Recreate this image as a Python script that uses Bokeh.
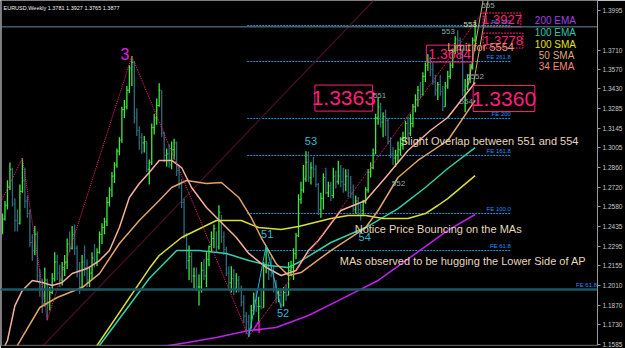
from bokeh.plotting import figure
from bokeh.models import Range1d, LinearAxis, FixedTicker, PrintfTickFormatter, Label, Span
from bokeh.embed import file_html
from bokeh.resources import INLINE

symbol = "EURUSD,Weekly"

# Weekly bars, values are pips above 1.0000 (2930 -> 1.2930)
first_open = 2440
highs = [2530, 2620, 2770, 2898, 2860, 2640, 2560, 2740, 2930, 2860,
         2660, 2560, 2380, 2440, 2400, 2130, 2060, 2140, 2060, 2000,
         2100, 2250, 2230, 2160, 2180, 2230, 2350, 2400, 2440, 2450,
         2300, 2180, 2230, 2300, 2200, 2150, 2250, 2310, 2280, 2400,
         2460, 2500, 2650, 2720, 2830, 2900, 3000, 3080, 3300, 3350,
         3450, 3600, 3666, 3630, 3290, 3160, 3110, 3090, 3050, 2920,
         3180, 3250, 3360, 3470, 3420, 3120, 3000, 3030, 3050, 3070,
         3050, 2880, 2780, 2640, 2390, 2300, 2250, 2140, 2140, 2090,
         2180, 2200, 2250, 2300, 2400, 2450, 2400, 2590, 2520, 2400,
         2290, 2150, 2150, 2130, 2100, 2080, 2010, 1940, 1820, 1800,
         1870, 1960, 1980, 1930, 1980, 2180, 2300, 2180, 2220, 2150,
         2050, 1990, 1990, 2000, 2020, 2180, 2190, 2280, 2390, 2670,
         2760, 2880, 2980, 2978, 2900, 2940, 2880, 2750, 2680, 2820,
         2860, 2760, 2760, 2860, 2840, 2910, 2880, 2860, 2850, 2850,
         2800, 2740, 2660, 2650, 2600, 2630, 2720, 2850, 2900, 3000,
         3250, 3370, 3330, 3260, 3280, 3220, 3080, 3010, 2990, 3050,
         3080, 3120, 3200, 3230, 3250, 3320, 3390, 3450, 3480, 3550,
         3620, 3682, 3660, 3620, 3530, 3480, 3530, 3450, 3480, 3560,
         3620, 3720, 3810, 3852, 3800, 3720, 3500, 3530, 3610, 3800,
         3927]
lows = [2380, 2480, 2560, 2700, 2580, 2400, 2400, 2450, 2680, 2570,
        2500, 2290, 2190, 2230, 2040, 1930, 1810, 1860, 1760, 1830,
        1950, 2040, 2050, 2000, 2010, 2080, 2130, 2250, 2270, 2230,
        2070, 1950, 1990, 2080, 2000, 2000, 2050, 2140, 2150, 2240,
        2310, 2380, 2440, 2580, 2650, 2750, 2860, 2950, 3040, 3220,
        3280, 3400, 3450, 3180, 3090, 2990, 2960, 2970, 2830, 2740,
        2880, 3100, 3170, 3300, 3080, 2900, 2870, 2860, 2850, 2920,
        2800, 2710, 2570, 2350, 2130, 2050, 2030, 1990, 1970, 1866,
        1960, 2050, 2000, 2150, 2250, 2280, 2250, 2270, 2320, 2230,
        2080, 1990, 1960, 1940, 1960, 1960, 1860, 1740, 1660, 1640,
        1700, 1800, 1820, 1750, 1840, 1850, 2100, 2050, 2070, 1960,
        1880, 1890, 1850, 1860, 1900, 1940, 2080, 2050, 2200, 2360,
        2600, 2680, 2760, 2760, 2740, 2790, 2720, 2520, 2500, 2560,
        2670, 2650, 2620, 2640, 2710, 2740, 2720, 2680, 2690, 2650,
        2640, 2540, 2530, 2510, 2480, 2520, 2600, 2680, 2790, 2850,
        2960, 3170, 3150, 3080, 3090, 3030, 2930, 2880, 2866, 2900,
        2950, 2990, 3040, 3060, 3090, 3150, 3260, 3300, 3360, 3380,
        3480, 3560, 3520, 3460, 3380, 3350, 3380, 3270, 3300, 3430,
        3500, 3580, 3680, 3720, 3650, 3380, 3260, 3420, 3470, 3570,
        3765]
closes = [2490, 2590, 2720, 2850, 2600, 2480, 2460, 2690, 2770, 2620,
          2530, 2320, 2260, 2380, 2080, 1990, 1880, 2050, 1870, 1960,
          2060, 2180, 2100, 2050, 2140, 2180, 2310, 2280, 2380, 2280,
          2120, 2000, 2180, 2140, 2050, 2100, 2210, 2170, 2250, 2380,
          2430, 2470, 2610, 2700, 2800, 2880, 2980, 3060, 3280, 3300,
          3420, 3580, 3620, 3220, 3130, 3080, 3040, 3050, 2850, 2900,
          3150, 3220, 3310, 3420, 3110, 2950, 2960, 2880, 2990, 3040,
          2840, 2740, 2610, 2380, 2190, 2220, 2080, 2080, 2000, 2000,
          2120, 2080, 2200, 2290, 2350, 2420, 2290, 2540, 2360, 2270,
          2100, 2030, 2060, 1990, 2050, 1990, 1890, 1790, 1750, 1700,
          1830, 1900, 1860, 1860, 1850, 2150, 2150, 2120, 2110, 2000,
          1920, 1940, 1870, 1960, 1940, 2120, 2140, 2240, 2370, 2630,
          2700, 2780, 2900, 2790, 2860, 2850, 2740, 2560, 2640, 2790,
          2680, 2730, 2660, 2800, 2760, 2800, 2760, 2740, 2800, 2680,
          2670, 2560, 2620, 2560, 2550, 2610, 2700, 2830, 2860, 2960,
          3220, 3300, 3190, 3230, 3200, 3050, 2960, 2930, 2950, 2990,
          3020, 3070, 3180, 3110, 3180, 3300, 3350, 3420, 3390, 3520,
          3600, 3620, 3570, 3480, 3420, 3460, 3410, 3300, 3450, 3520,
          3600, 3700, 3790, 3780, 3680, 3420, 3450, 3500, 3580, 3781,
          3877]

# Moving averages: (bar index, pips above 1.0000)
ema34_i = [0, 2, 5, 8, 12, 16, 20, 24, 28, 34, 39, 43, 47, 51, 55, 59, 63, 68, 72, 76, 82, 86,
           94, 99, 106, 112, 118, 123, 127, 136, 146, 154, 163, 172, 179, 190]
ema34_v = [1540, 1614, 1866, 1975, 2047, 2032, 2011, 2032, 2097, 2133, 2191, 2263, 2429, 2646, 2747,
           2826, 2913, 2913, 2862, 2718, 2574, 2501, 2357, 2242, 2141, 2083, 2119, 2263, 2335, 2552,
           2624, 2790, 2985, 3129, 3223, 3475]
sma50_i = [5, 6, 15, 22, 32, 39, 47, 55, 59, 63, 68, 74, 82, 88, 95, 100, 104, 110, 115, 120, 132,
           146, 151, 159, 167, 179, 190]
sma50_v = [1500, 1578, 1852, 1924, 1996, 2097, 2314, 2480, 2552, 2624, 2718, 2768, 2747, 2754, 2646,
           2501, 2357, 2169, 2083, 2104, 2263, 2429, 2552, 2790, 2913, 3057, 3346]
sma100_i = [37, 38, 59, 63, 72, 86, 96, 103, 112, 119, 132, 139, 146, 153, 163, 170, 175, 179, 190]
sma100_v = [1500, 1578, 2133, 2227, 2357, 2480, 2480, 2429, 2415, 2436, 2494, 2516, 2516, 2494, 2494,
            2530, 2588, 2638, 2804]
ema100_i = [38, 39, 59, 70, 79, 90, 99, 107, 115, 119, 132, 146, 159, 170, 179, 190]
ema100_v = [1500, 1578, 2061, 2263, 2263, 2242, 2191, 2155, 2141, 2177, 2321, 2429, 2566, 2718, 2855, 3006]
ema200_i = [64, 72, 86, 99, 110, 123, 135, 151, 179, 190]
ema200_v = [1570, 1592, 1635, 1686, 1708, 1794, 1902, 2047, 2408, 2523]

# ZigZag and wave lines (bar index, pips)
zigzag_i = [-1, 8, 18, 52, 99]
zigzag_v = [2600, 2930, 1760, 3666, 1640]
wave12_i = [99, 106, 112]
wave12_v = [1640, 2300, 1850]
ap_lower_i = [98.4, 193.2]
ap_lower_v = [1628, 3988]
dark_line_i = [16.4, 149.2]
dark_line_v = [1578, 4067]
tan_line1_i = [187.2, 193.2]
tan_line2_i = [189.2, 195.2]
tan_line_v = [3454, 4067]

# Fibonacci expansion levels
fe_names = ["FE 300", "FE 261.8", "FE 200", "FE 161.8", "FE 100.0", "FE 61.8"]
fe_levels = [3886, 3627, 3216, 2949, 2530, 2263]
fe_start, fe_end = 98.4, 204.4
fe2_name = "FE 61.8"
fe2_level = 1982

price_marks = [1.3363, 1.3360, 1.3684, 1.3778, 1.3927]
axis_ticks = [1.3995, 1.3710, 1.3570, 1.3430, 1.3285, 1.3145, 1.3005, 1.2860, 1.2720,
              1.2580, 1.2435, 1.2295, 1.2155, 1.2010, 1.1870, 1.1730, 1.1585]

legend_names = ["200 EMA", "100 EMA", "100 SMA", "50 SMA", "34 EMA"]


def pr(v):
    return 1.0 + v / 10000.0


n = len(closes)
idx = list(range(n))
H = [pr(v) for v in highs]
L = [pr(v) for v in lows]
C = [pr(v) for v in closes]
O = [pr(first_open)] + C[:-1]

BULL = "#3DEB3D"
BEAR = "#2F6A7C"
cols = [BULL if c >= o else BEAR for o, c in zip(O, C)]

p = figure(width=625, height=348, x_range=Range1d(-0.8, 239.2), y_range=Range1d(1.15778, 1.40672),
           output_backend="svg", toolbar_location=None, x_axis_location=None, y_axis_location=None,
           min_border_left=0, min_border_right=0, min_border_top=0, min_border_bottom=3,
           background_fill_color="black", border_fill_color="black", outline_line_color=None)
p.grid.visible = False

ax = LinearAxis(ticker=FixedTicker(ticks=axis_ticks), formatter=PrintfTickFormatter(format="%.4f"))
ax.major_label_text_color = "#C8C8C8"
ax.major_label_text_font = "Liberation Sans"
ax.major_label_text_font_size = "6.5px"
ax.axis_line_color = "#9A9A9A"
ax.major_tick_line_color = "#9A9A9A"
ax.major_tick_out = 3
ax.major_tick_in = 0
ax.minor_tick_line_color = None
ax.major_label_standoff = 2
p.add_layout(ax, "right")

# frame borders
p.add_layout(Span(location=-0.45, dimension="height", line_color="#8A8A8A", line_width=1))
p.add_layout(Span(location=1.1579, dimension="width", line_color="#7A7A7A", line_width=1))

# full width lines
p.add_layout(Span(location=pr(fe2_level), dimension="width", line_color="#1E5866", line_width=2.5))
p.add_layout(Span(location=C[-1], dimension="width", line_color="#6A8CA0", line_width=1))

# FE dotted levels
for lv in fe_levels:
    p.line([fe_start, fe_end], [pr(lv), pr(lv)], line_color="#1E9AE0", line_dash="2 1", line_width=1)

# dark pitchfork line
p.line(dark_line_i, [pr(v) for v in dark_line_v], line_color="#4A0E24", line_width=1.2)

# bars
p.segment(x0=idx, y0=L, x1=idx, y1=H, color=cols, line_width=1.3)
p.segment(x0=[i - 0.45 for i in idx], y0=O, x1=idx, y1=O, color=cols, line_width=1)
p.segment(x0=idx, y0=C, x1=[i + 0.45 for i in idx], y1=C, color=cols, line_width=1)

# moving averages
p.line(ema200_i, [pr(v) for v in ema200_v], line_color="#C020F0", line_width=1.5)
p.line(ema100_i, [pr(v) for v in ema100_v], line_color="#30D0A8", line_width=1.5)
p.line(sma100_i, [pr(v) for v in sma100_v], line_color="#D8E030", line_width=1.5)
p.line(sma50_i, [pr(v) for v in sma50_v], line_color="#E0A468", line_width=1.5)
p.line(ema34_i, [pr(v) for v in ema34_v], line_color="#F4B098", line_width=1.5)

# zigzag, wave 1-2, AP lower line, tan lines
p.line(zigzag_i, [pr(v) for v in zigzag_v], line_color="#FF1E78", line_dash="1 1", line_width=1)
p.line(ap_lower_i, [pr(v) for v in ap_lower_v], line_color="#FF1E60", line_dash="1 1", line_width=1)
p.line(wave12_i, [pr(v) for v in wave12_v], line_color="#20B8D8", line_width=1)
p.line(tan_line1_i, [pr(v) for v in tan_line_v], line_color="#C8B070", line_width=1)
p.line(tan_line2_i, [pr(v) for v in tan_line_v], line_color="#C8B070", line_width=1)

FONT = "Liberation Sans"


def lab(x, y, text, color, size, align="left", baseline="middle", xu="data"):
    p.add_layout(Label(x=x, y=y, x_units=xu, text=text, text_color=color, text_font_size=size,
                       text_align=align, text_baseline=baseline, text_font=FONT))


# FE labels
for name, lv in zip(fe_names, fe_levels):
    lab(fe_end, pr(lv) + 0.0008, name, "#1E90FF", "6px", align="right", baseline="bottom")
lab(239.0, pr(fe2_level) + 0.0012, fe2_name, "#1E90FF", "6px", align="right", baseline="bottom")

# price boxes
PINK = "#FF1E78"
box_specs = [(125.6, 148.8, 0.0094, "21px", False), (189.2, 214.0, 0.0094, "21px", False),
             (170.4, 189.2, 0.0061, "14px", False), (193.2, 209.2, 0.0054, "13px", True),
             (193.2, 208.4, 0.0050, "13px", True)]
for val, (x0, x1, hh, fs, dashed) in zip(price_marks, box_specs):
    p.quad(left=[x0], right=[x1], top=[val + hh], bottom=[val - hh], fill_alpha=0,
           line_color=PINK, line_width=1, line_dash="2 1" if dashed else "solid")
    lab((x0 + x1) / 2, val, "%.4f" % val, PINK, fs, align="center")

lab(178.8, 1.3735, "Limit for 5554", "#E8A07A", "11px")

# wave labels
MAG = "#E020E0"
CY = "#30B8D8"
GR = "#8AAAA8"
lab(49.2, 1.3678, "3", MAG, "16px", align="center")
lab(102.4, 1.1708, "4", MAG, "16px", align="center")
lab(106.4, 1.2379, "51", CY, "11px", align="center")
lab(112.8, 1.1809, "52", CY, "11px", align="center")
lab(124.0, 1.3050, "53", CY, "11px", align="center")
lab(145.6, 1.2364, "54", CY, "11px", align="center")
lab(151.6, 1.3382, "551", GR, "8px", align="center")
lab(159.2, 1.2747, "552", GR, "8px", align="center")
lab(179.2, 1.3843, "553", GR, "8px", align="center")
lab(186.4, 1.3338, "554", GR, "8px", align="center")
lab(195.2, 1.4031, "555", GR, "8px", align="center")
lab(190.0, 1.3519, "5552", GR, "8px", align="center")
lab(188.0, 1.3894, "553", "#D8D8A0", "8px", align="center")

# commentary
NOTE = "#E6D6BE"
lab(160.0, 1.3050, "Slight Overlap between 551 and 554", NOTE, "11px")
lab(141.6, 1.2422, "Notice Price Bouncing on the MAs", NOTE, "11px")
lab(135.6, 1.2184, "MAs observed to be hugging the Lower Side of AP", NOTE, "11px")

# legend
leg_cols = ["#A040E8", "#30C8A8", "#E0E020", "#D8A878", "#F08878"]
leg_y = [1.3923, 1.3836, 1.3750, 1.3670, 1.3591]
leg_x = [214.0, 214.0, 214.0, 215.6, 215.6]
for name, c, y, x in zip(legend_names, leg_cols, leg_y, leg_x):
    lab(x, y, name, c, "10px")

# title
title = "%s  %.4f %.4f %.4f %.4f" % (symbol, O[-1], H[-1], L[-1], C[-1])
lab(0.4, 1.4015, title, "#F0F0F0", "5.5px")

# current price tag on the axis
p.add_layout(Label(x=601, x_units="screen", y=C[-1], text="%.4f" % C[-1], text_color="black",
                   text_font_size="6.5px", text_font=FONT, text_baseline="middle",
                   background_fill_color="white"))

open("out.html", "w").write(file_html(p, INLINE))
